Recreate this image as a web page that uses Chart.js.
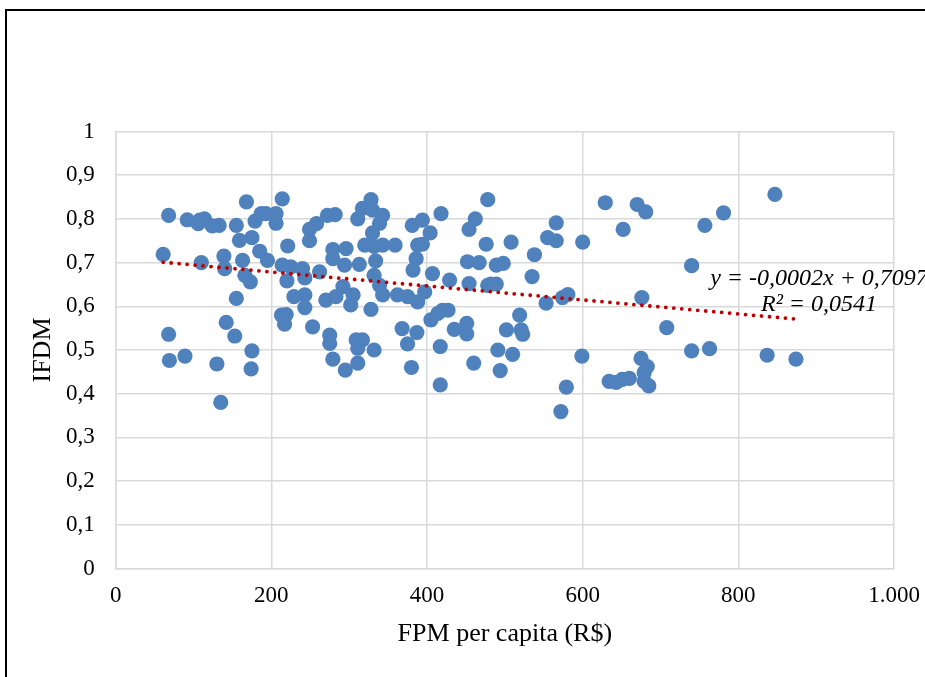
<!DOCTYPE html>
<html>
<head>
<meta charset="utf-8">
<script src="https://cdn.jsdelivr.net/npm/chart.js@4.4.1/dist/chart.umd.min.js"></script>
<style>
  html, body { margin: 0; padding: 0; background: #fff; overflow: hidden; }
  #wrap { position: relative; width: 925px; height: 677px; overflow: hidden; }
  #frame { position: absolute; left: 5px; top: 9px; width: 1000px; height: 800px; border: 2px solid #000; }
  #chart { position: absolute; left: 0; top: 0; }
</style>
</head>
<body>
<div id="wrap">
  <div id="frame"></div>
  <canvas id="chart" width="925" height="677"></canvas>
</div>
<script>
// FPM per capita (R$) -> x, IFDM -> y
const fpm = [
  68, 92, 106, 114, 108, 124, 133, 155, 168, 187, 193, 206, 214, 179, 206, 159, 175, 221, 185, 195,
  61, 110, 139, 140, 163, 166, 173, 214, 225, 220, 229, 155, 213, 219, 217, 142, 153, 68, 175, 89,
  69, 130, 174, 135,
  328, 317, 330, 343, 311, 339, 272, 282, 258, 249, 249, 330, 320, 332, 343, 359, 279, 296, 279, 294,
  313, 334, 332, 240, 262, 243, 339, 343, 292, 305, 270, 283, 302, 243, 243, 328, 362, 375, 388, 397,
  382, 386, 388, 394, 381, 394, 404, 418, 407, 429, 454, 462, 478, 476, 452, 467, 454, 478, 420, 414,
  405, 427, 253, 275, 275, 309, 317, 311, 332, 279, 295, 311, 368, 387, 375, 380, 417, 417, 435, 451,
  451, 460,
  508, 489, 498, 482, 489, 538, 535, 566, 555, 566, 600, 629, 670, 681, 652, 581, 574, 553, 676, 519,
  502, 521, 523, 491, 510, 494, 599, 579, 572, 634, 643, 651, 660, 675, 683, 679, 679, 685, 708,
  847, 781, 757, 740, 740, 763, 837, 874
];
const ifdm = [
  0.808, 0.798, 0.789, 0.800, 0.797, 0.784, 0.785, 0.785, 0.839, 0.812, 0.812, 0.812, 0.846, 0.795, 0.790, 0.751, 0.757, 0.738, 0.726, 0.705,
  0.719, 0.700, 0.715, 0.686, 0.705, 0.671, 0.656, 0.694, 0.690, 0.658, 0.622, 0.618, 0.580, 0.581, 0.559, 0.563, 0.532, 0.536, 0.498, 0.486,
  0.476, 0.468, 0.457, 0.380,
  0.844, 0.824, 0.820, 0.808, 0.800, 0.790, 0.808, 0.810, 0.789, 0.776, 0.750, 0.768, 0.740, 0.737, 0.740, 0.740, 0.730, 0.732, 0.709, 0.694,
  0.696, 0.704, 0.671, 0.686, 0.679, 0.665, 0.648, 0.626, 0.645, 0.626, 0.614, 0.622, 0.603, 0.626, 0.597, 0.593, 0.626, 0.622, 0.610, 0.633,
  0.683, 0.709, 0.740, 0.742, 0.785, 0.797, 0.768, 0.812, 0.675, 0.660, 0.776, 0.800, 0.844, 0.742, 0.702, 0.700, 0.652, 0.648, 0.591, 0.584,
  0.569, 0.591, 0.553, 0.534, 0.515, 0.523, 0.523, 0.504, 0.500, 0.479, 0.454, 0.470, 0.549, 0.540, 0.514, 0.460, 0.508, 0.420, 0.547, 0.561,
  0.537, 0.470,
  0.747, 0.694, 0.698, 0.651, 0.651, 0.718, 0.668, 0.791, 0.757, 0.750, 0.747, 0.837, 0.833, 0.816, 0.776, 0.627, 0.620, 0.607, 0.620, 0.580,
  0.546, 0.546, 0.536, 0.500, 0.490, 0.453, 0.486, 0.415, 0.359, 0.428, 0.426, 0.433, 0.435, 0.481, 0.462, 0.448, 0.428, 0.418, 0.551,
  0.856, 0.814, 0.785, 0.693, 0.498, 0.503, 0.488, 0.479
];

// linear trend (as drawn in the picture) and its label
const trendSlope = -0.00016;
const trendIntercept = 0.7105;
const trendLabel = ['y = -0,0002x + 0,7097', 'R² = 0,0541'];

const xTicks = [0, 200, 400, 600, 800, 1000];
const xTickLabels = ['0', '200', '400', '600', '800', '1.000'];

const points = fpm.map((x, i) => ({ x: x, y: ifdm[i] }));
const xMin = Math.min(...fpm), xMax = Math.max(...fpm);
const trend = [
  { x: xMin, y: trendIntercept + trendSlope * xMin },
  { x: xMax, y: trendIntercept + trendSlope * xMax }
];

const serif = '"Liberation Serif", "Times New Roman", serif';
const gridColor = '#d9d9d9';

const eqPlugin = {
  id: 'eq',
  afterDatasetsDraw(chart) {
    const ctx = chart.ctx;
    ctx.save();
    ctx.font = 'italic 24px ' + serif;
    ctx.fillStyle = '#000';
    ctx.textAlign = 'center';
    ctx.textBaseline = 'alphabetic';
    ctx.fillText(trendLabel[0], 819, 285);
    ctx.fillText(trendLabel[1], 819, 311);
    ctx.restore();
  }
};

new Chart(document.getElementById('chart'), {
  type: 'scatter',
  data: {
    datasets: [
      {
        data: trend,
        showLine: true,
        borderColor: '#c00000',
        borderWidth: 3.8,
        borderDash: [0.01, 8],
        borderCapStyle: 'round',
        pointRadius: 0,
        order: 0
      },
      {
        data: points,
        backgroundColor: '#4f81bd',
        borderWidth: 0,
        pointRadius: 7.6,
        pointHoverRadius: 7.6,
        order: 1
      }
    ]
  },
  options: {
    responsive: false,
    animation: false,
    events: [],
    layout: { padding: { top: 131.5, right: 31, bottom: 0, left: 0 } },
    plugins: { legend: { display: false }, tooltip: { enabled: false } },
    scales: {
      x: {
        type: 'linear',
        min: 0,
        max: 1000,
        afterBuildTicks: s => { s.ticks = xTicks.map(v => ({ value: v })); },
        afterFit: s => { s.height = 108.5; s.paddingLeft = 0; s.paddingRight = 0; },
        ticks: {
          padding: 14,
          color: '#000',
          font: { family: serif, size: 23 },
          callback: v => xTickLabels[xTicks.indexOf(v)]
        },
        grid: { color: gridColor, lineWidth: 1.5, drawTicks: false },
        border: { color: gridColor, width: 1.5 },
        title: {
          display: true,
          text: 'FPM per capita (R$)',
          color: '#000',
          font: { family: serif, size: 26 },
          padding: { top: 0, bottom: 27 }
        }
      },
      y: {
        min: 0,
        max: 1,
        afterFit: s => { s.width = 115.7; s.paddingTop = 0; s.paddingBottom = 0; },
        ticks: {
          stepSize: 0.1,
          padding: 21,
          color: '#000',
          font: { family: serif, size: 23 },
          callback: v => {
            const r = Math.round(v * 10) / 10;
            return (r === 0 || r === 1) ? String(r) : r.toFixed(1).replace('.', ',');
          }
        },
        grid: { color: gridColor, lineWidth: 1.5, drawTicks: false },
        border: { color: gridColor, width: 1.5 },
        title: {
          display: true,
          text: 'IFDM',
          color: '#000',
          font: { family: serif, size: 26 },
          padding: { top: 28, bottom: 0 }
        }
      }
    }
  },
  plugins: [eqPlugin]
});
</script>
</body>
</html>
